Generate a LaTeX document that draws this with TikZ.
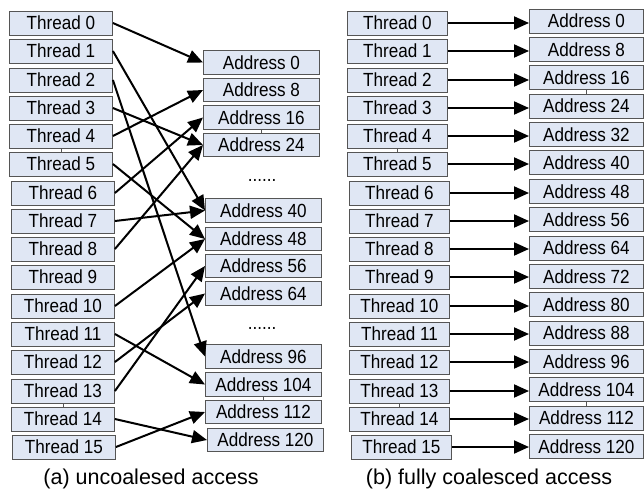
\documentclass[tikz,border=0pt]{standalone}
\usepackage{fontspec}
\setmainfont{Liberation Sans}
\newfontfamily\labelfont[FakeStretch=0.9]{Liberation Sans}
\usetikzlibrary{arrows.meta}
\definecolor{boxfill}{RGB}{224,231,244}
\definecolor{boxline}{RGB}{85,85,85}
\tikzset{
  cell/.style={draw=boxline, fill=boxfill, line width=0.9pt, minimum height=24pt,
    inner sep=0pt, anchor=west, font=\labelfont\fontsize{19}{19}\selectfont},
  thr/.style={cell, minimum width=103pt},
  adr/.style={cell, minimum width=116pt, minimum height=23.5pt},
  radr/.style={cell, minimum width=114pt},
  link/.style={line width=2pt, -{Triangle[length=15pt,width=13pt]}},
  tick/.style={line width=0.8pt, draw=boxline},
  dots/.style={font=\labelfont\fontsize{19}{19}\selectfont},
  caption/.style={font=\fontsize{21.5}{21.5}\selectfont, anchor=base},
}
\begin{document}
\begin{tikzpicture}[x=1pt,y=-1pt]
\useasboundingbox (0,0) rectangle (644,488);

% (a) uncoalesced: thread column
\foreach \i in {0,...,15}{
  \pgfmathsetmacro{\tx}{\i<6 ? 9 : (\i<15 ? 11 : 12)}
  \pgfmathsetmacro{\ty}{round(23+28.27*\i)}
  \node[thr] (la-t\i) at (\tx,\ty) {Thread \i};
}
% (a) address column
\foreach \a/\ax/\ay in {0/203/62.5, 8/203/90, 16/203/117.5, 24/203/145,
    40/205/210.5, 48/205/239, 56/205/266, 64/205/293.5,
    96/205/356.5, 104/205/384.5, 112/205/412, 120/207/440}{
  \node[adr] (la-a\a) at (\ax,\ay) {Address \a};
}
\node[dots] (la-gap1) at (262,180) {......};
\node[dots] (la-gap2) at (262,328) {......};

% scattered thread-to-address accesses
\foreach \t/\a in {0/0, 1/40, 2/96, 3/24, 4/8, 5/48, 6/16, 7/40, 8/24,
    10/48, 11/104, 12/64, 13/56, 14/120, 15/112}{
  \draw[link] (la-t\t.east) -- (la-a\a.west);
}

\draw[tick] (la-t4.south) -- (la-t5.north);
\draw[tick] (la-t13.south) -- (la-t14.north);
\draw[tick] (la-a16.south) -- (la-a24.north);
\draw[tick] (la-a104.south) -- (la-a112.north);

% (b) fully coalesced: one-to-one mapping
\foreach \i in {0,...,15}{
  \pgfmathsetmacro{\tx}{\i<6 ? 347 : (\i<15 ? 349 : 351)}
  \pgfmathsetmacro{\ty}{round(23+28.27*\i)}
  \pgfmathsetmacro{\ay}{21+28.37*\i}
  \pgfmathtruncatemacro{\addr}{8*\i}
  \node[thr, minimum width=100pt] (rb-t\i) at (\tx,\ty) {Thread \i};
  \node[radr] (rb-a\i) at (529,\ay) {Address \addr};
  \draw[link] (rb-t\i.east) -- (rb-t\i.east -| rb-a\i.west);
}

\draw[tick] (rb-t4.south) -- (rb-t5.north);
\draw[tick] (rb-t13.south) -- (rb-t14.north);
\draw[tick] (rb-a2.south) -- (rb-a3.north);
\draw[tick] (rb-a13.south) -- (rb-a14.north);

\node[caption] (cap-a) at (151,484) {(a) uncoalesed access};
\node[caption] (cap-b) at (489,484) {(b) fully coalesced access};
\end{tikzpicture}
\end{document}
